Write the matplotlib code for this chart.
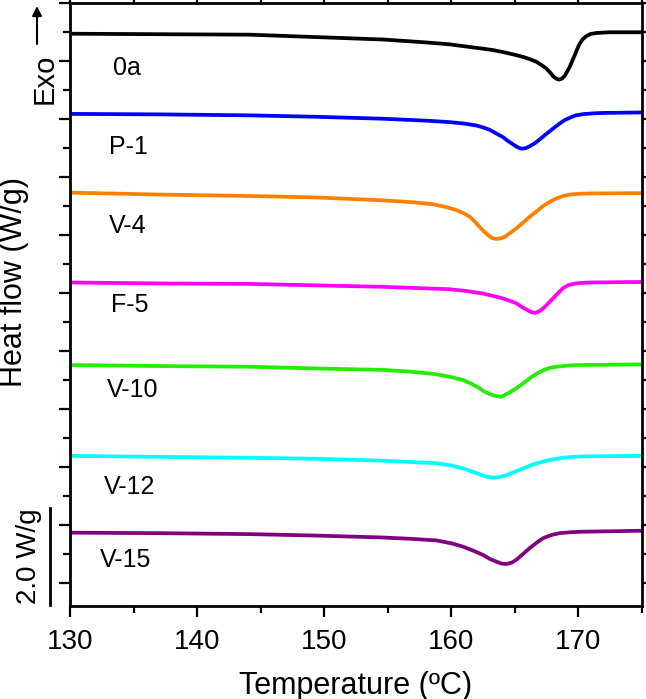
import matplotlib
matplotlib.use("Agg")
import matplotlib.pyplot as plt
from matplotlib.ticker import MultipleLocator
import matplotlib.transforms as mtransforms

plt.rcParams['font.family'] = ['Liberation Sans', 'DejaVu Sans']

# curves: temperature (C) and shifted heat flow (W/g)
t_0a = [130, 137, 144.15, 149.39, 154.63, 158, 159.87, 161.3, 162.49, 163.3, 164.06,
        164.9, 165.64, 166.2, 166.69, 167.1, 167.47, 167.8, 168.0, 168.25, 168.47,
        168.7, 168.92, 169.1, 169.31, 169.5, 169.7, 169.9, 170.09, 170.35, 170.62,
        170.95, 171.41, 172.45, 175]
hf_0a = [11.37, 11.36, 11.35, 11.30, 11.25, 11.19, 11.15, 11.10, 11.06, 11.03, 10.99,
         10.94, 10.89, 10.84, 10.79, 10.72, 10.65, 10.56, 10.49, 10.44, 10.42,
         10.44, 10.50, 10.58, 10.68, 10.80, 10.92, 11.05, 11.16, 11.26, 11.32,
         11.365, 11.385, 11.40, 11.40]

t_p1 = [130, 137, 144.15, 149.39, 154.63, 158, 159.87, 161, 161.97, 162.5, 163.02,
        163.5, 164.06, 164.45, 164.85, 165.2, 165.51, 165.85, 166.16, 166.55, 166.95,
        167.35, 167.74, 168.12, 168.52, 168.9, 169.31, 169.8, 170.36, 171.1, 171.93, 175]
hf_p1 = [9.71, 9.70, 9.68, 9.65, 9.61, 9.57, 9.54, 9.51, 9.47, 9.43, 9.38,
         9.31, 9.23, 9.15, 9.08, 9.02, 8.99, 9.00, 9.04, 9.10, 9.18,
         9.27, 9.35, 9.43, 9.51, 9.58, 9.63, 9.68, 9.705, 9.72, 9.73, 9.74]

t_v4 = [130, 137, 144.15, 149.39, 154.63, 157, 158.56, 159.6, 160.39, 161.0, 161.45,
        161.85, 162.23, 162.55, 162.89, 163.2, 163.54, 163.85, 164.2, 164.65, 165.12,
        165.65, 166.16, 166.7, 167.21, 167.75, 168.26, 168.8, 169.31, 170.0, 170.88, 175]
hf_v4 = [8.08, 8.04, 8.01, 7.98, 7.92, 7.88, 7.84, 7.78, 7.72, 7.65, 7.58,
         7.48, 7.37, 7.28, 7.20, 7.14, 7.12, 7.13, 7.165, 7.25, 7.34,
         7.46, 7.58, 7.69, 7.80, 7.89, 7.96, 8.01, 8.04, 8.055, 8.063, 8.07]

t_f5 = [130, 137, 144.15, 149.39, 154.63, 159.87, 161.3, 162.49, 163.3, 164.06, 164.6,
        165.12, 165.5, 165.9, 166.25, 166.56, 166.9, 167.21, 167.6, 168.0, 168.4,
        168.78, 169.15, 169.57, 170.2, 170.88, 175]
hf_f5 = [6.22, 6.20, 6.19, 6.16, 6.13, 6.08, 6.04, 5.99, 5.94, 5.89, 5.84,
         5.79, 5.72, 5.66, 5.61, 5.59, 5.62, 5.68, 5.78, 5.89, 6.00,
         6.10, 6.16, 6.19, 6.21, 6.22, 6.23]

t_v10 = [130, 137, 144.15, 149.39, 154.63, 157, 158.82, 160, 160.92, 161.6, 162.23,
         162.6, 163.02, 163.5, 163.94, 164.5, 165.12, 165.65, 166.16, 166.7, 167.21,
         167.7, 168.26, 169, 169.83, 175]
hf_v10 = [4.51, 4.49, 4.475, 4.44, 4.41, 4.37, 4.32, 4.26, 4.20, 4.12, 4.03,
          3.96, 3.91, 3.87, 3.855, 3.93, 4.03, 4.13, 4.235, 4.33, 4.40,
          4.45, 4.475, 4.495, 4.51, 4.525]

t_v12 = [130, 137, 144.15, 149.39, 154.63, 157, 158.82, 160, 160.92, 161.6, 162.23,
         162.75, 163.28, 163.8, 164.33, 165.0, 165.64, 166.4, 167.21, 168.0, 168.78,
         169.5, 170.36, 175]
hf_v12 = [2.63, 2.61, 2.59, 2.57, 2.53, 2.50, 2.48, 2.43, 2.37, 2.31, 2.25,
          2.20, 2.18, 2.19, 2.23, 2.30, 2.37, 2.45, 2.51, 2.56, 2.59,
          2.61, 2.62, 2.63]

t_v15 = [130, 137, 144.15, 149.39, 154.63, 157, 158.82, 160, 160.92, 161.7, 162.49,
         163.0, 163.54, 163.95, 164.33, 164.75, 165.12, 165.65, 166.16, 166.7, 167.21,
         167.85, 168.52, 169.4, 170.36, 175]
hf_v15 = [1.04, 1.03, 1.01, 0.98, 0.94, 0.91, 0.88, 0.82, 0.75, 0.67, 0.58,
          0.50, 0.44, 0.40, 0.39, 0.42, 0.48, 0.60, 0.72, 0.83, 0.925,
          0.99, 1.03, 1.05, 1.06, 1.08]

names = ['0a', 'P-1', 'V-4', 'F-5', 'V-10', 'V-12', 'V-15']
temps = [t_0a, t_p1, t_v4, t_f5, t_v10, t_v12, t_v15]
flows = [hf_0a, hf_p1, hf_v4, hf_f5, hf_v10, hf_v12, hf_v15]
colors = ['black', '#0000ff', '#ff8000', '#ff00ff', '#22ee00', '#00ffff', '#800080']
label_x = [134.5, 134.6, 134.5, 134.7, 134.9, 134.7, 134.4]
label_y = [10.65, 9.02, 7.39, 5.75, 4.00, 1.99, 0.48]

fig = plt.figure(figsize=(6.46, 6.99), dpi=100)
ax = fig.add_axes([0.1084, 0.1336, 0.8854, 0.8617])

for t, hf, c in zip(temps, flows, colors):
    ax.plot(t, hf, color=c, lw=2.7, solid_joinstyle='round', solid_capstyle='butt')

for n, x, y in zip(names, label_x, label_y):
    ax.text(x, y, n, fontsize=18, ha='center', va='center')

ax.set_xlim(130, 175)
ax.set_ylim(-0.47, 12.0)
ax.xaxis.set_major_locator(MultipleLocator(10))
ax.xaxis.set_minor_locator(MultipleLocator(5))
ax.yaxis.set_major_locator(MultipleLocator(1.2))
ax.yaxis.set_minor_locator(MultipleLocator(0.6))
ax.tick_params(which='both', direction='out', width=1.6, top=True, right=True)
ax.tick_params(which='major', length=8, labelsize=20, pad=9)
ax.tick_params(which='minor', length=5)
ax.tick_params(axis='y', labelleft=False)
for s in ax.spines.values():
    s.set_linewidth(2)

ax.set_xlabel('Temperature (ºC)', fontsize=22, labelpad=11)

# y label, exo arrow and the 2.0 W/g scale bar
fig.text(22 / 646, 1 - 282 / 699, 'Heat flow (W/g)', fontsize=22, rotation=90,
         ha='center', va='baseline', rotation_mode='anchor')
fig.text(53 / 646, 1 - 79 / 699, 'Exo', fontsize=21, rotation=90,
         ha='center', va='baseline', rotation_mode='anchor')
ax.annotate('', xy=(37 / 646, 1 - 6 / 699), xytext=(37 / 646, 1 - 44 / 699),
            xycoords='figure fraction', textcoords='figure fraction',
            arrowprops=dict(arrowstyle='-|>', color='black', lw=1.5,
                            mutation_scale=14, shrinkA=0, shrinkB=0))

trans = mtransforms.blended_transform_factory(ax.transAxes, ax.transData)
ax.plot([-0.035, -0.035], [-0.45, 1.55], color='black', lw=2,
        transform=trans, clip_on=False)
fig.text(36 / 646, 1 - 556 / 699, '2.0 W/g', fontsize=20, rotation=90,
         ha='center', va='baseline', rotation_mode='anchor')

fig.savefig('out.png', dpi=100)
